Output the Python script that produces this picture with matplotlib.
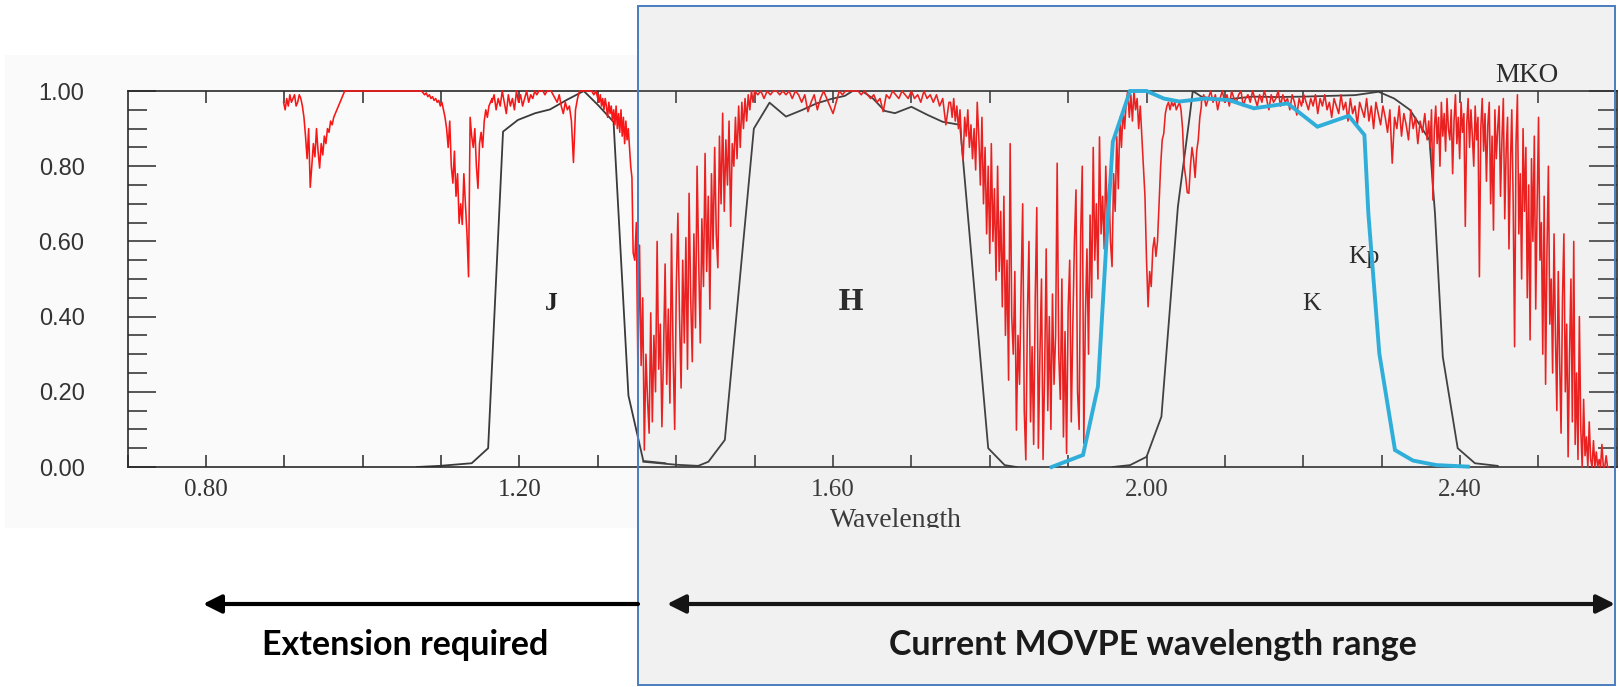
import numpy as np
import matplotlib
matplotlib.use("Agg")
import matplotlib.pyplot as plt
from matplotlib.patches import Rectangle, FancyArrowPatch
from matplotlib.transforms import Bbox, blended_transform_factory

# ---------------------------------------------------------------------------
# Atmospheric transmission (Mauna Kea), sampled piecewise: each block holds
# (first wavelength, last wavelength) and transmission values read at evenly
# spaced wavelengths across that block.
# ---------------------------------------------------------------------------
atm_range_a = (0.899, 0.979)
atm_vals_a = [0.97, 0.95, 0.98, 0.96, 0.99, 0.97, 0.98, 0.99, 0.96, 0.97,
              0.99, 0.98, 0.96, 0.93, 0.88, 0.82, 0.90, 0.744, 0.80, 0.86,
              0.825, 0.90, 0.84, 0.795, 0.86, 0.83, 0.88, 0.86, 0.90, 0.89,
              0.92, 0.91, 0.93, 0.94, 0.95, 0.96, 0.97, 0.98, 0.99, 1.0, 1.0]

atm_range_b = (0.979, 1.075)
atm_vals_b = [1.0, 1.0]

atm_range_c = (1.075, 1.165)
atm_vals_c = [1.0, 0.995, 0.99, 0.995, 0.985, 0.99, 0.98, 0.985, 0.975, 0.98,
              0.97, 0.975, 0.96, 0.97, 0.95, 0.93, 0.90, 0.85, 0.92, 0.80,
              0.755, 0.84, 0.72, 0.78, 0.648, 0.70, 0.645, 0.78, 0.70, 0.62,
              0.506, 0.93, 0.88, 0.85, 0.90, 0.80, 0.741, 0.86, 0.89, 0.85,
              0.92, 0.95, 0.93, 0.96, 0.97, 0.98]

atm_range_d = (1.165, 1.300)
atm_vals_d = [0.97, 0.99, 0.95, 0.98, 0.96, 1.0, 0.97, 0.94, 0.99, 0.96,
              0.98, 0.95, 1.0, 0.97, 0.99, 0.96, 0.98, 1.0, 0.97, 0.99,
              0.98, 1.0, 0.99, 1.0, 1.0, 1.0, 0.99, 1.0, 1.0, 1.0,
              0.99, 0.98, 0.97, 0.99, 0.96, 0.94, 0.97, 0.95, 0.96, 0.92,
              0.81, 0.95, 0.98, 1.0, 1.0, 1.0, 1.0, 1.0, 1.0, 1.0,
              0.99, 1.0, 0.98]

atm_range_e = (1.300, 1.345)
atm_vals_e = [0.99, 0.97, 0.99, 0.96, 0.98, 0.95, 0.98, 0.96, 0.93, 0.97,
              0.94, 0.96, 0.92, 0.95, 0.91, 0.96, 0.90, 0.94, 0.89, 0.95,
              0.88, 0.93, 0.86, 0.92, 0.87, 0.90, 0.85, 0.80, 0.77, 0.57]

atm_range_f = (1.345, 1.500)
atm_vals_f = [0.57, 0.55, 0.65, 0.25, 0.59, 0.27, 0.45, 0.045, 0.30, 0.18,
              0.09, 0.41, 0.12, 0.35, 0.20, 0.60, 0.26, 0.38, 0.107, 0.30,
              0.54, 0.22, 0.42, 0.17, 0.62, 0.30, 0.10, 0.48, 0.675, 0.40,
              0.21, 0.55, 0.33, 0.61, 0.26, 0.728, 0.45, 0.28, 0.62, 0.37,
              0.80, 0.55, 0.33, 0.66, 0.48, 0.834, 0.52, 0.72, 0.42, 0.78,
              0.58, 0.85, 0.62, 0.53, 0.88, 0.70, 0.941, 0.68, 0.87, 0.75,
              0.92, 0.64, 0.86, 0.80, 0.93, 0.82, 0.96, 0.85, 0.97, 0.90,
              0.98, 0.92, 0.99, 0.95, 1.0, 0.97, 1.0]

atm_range_g = (1.500, 1.748)
atm_vals_g = [1.0, 0.99, 1.0, 0.98, 1.0, 0.99, 1.0, 1.0, 0.99, 1.0,
              0.99, 1.0, 0.98, 1.0, 0.99, 0.97, 0.99, 0.945, 0.97, 0.99,
              0.95, 0.98, 1.0, 0.98, 0.96, 0.94, 0.97, 1.0, 0.99, 1.0,
              1.0, 1.0, 1.0, 1.0, 0.99, 1.0, 0.99, 0.98, 0.99, 0.97,
              0.98, 0.945, 0.99, 0.98, 1.0, 0.99, 0.98, 1.0, 0.99, 0.98,
              1.0, 0.98, 0.99, 0.97, 1.0, 0.98, 0.99, 0.97, 0.99, 0.96,
              0.98, 0.91, 0.97]

atm_range_h = (1.750, 2.070)
atm_vals_h = [0.97, 0.93, 0.98, 0.92, 0.96, 0.90, 0.95, 0.86, 0.816, 0.93,
              0.88, 0.95, 0.85, 0.91, 0.82, 0.90, 0.79, 0.97, 0.88, 0.75,
              0.93, 0.70, 0.85, 0.62, 0.80, 0.568, 0.86, 0.60, 0.74, 0.497,
              0.80, 0.52, 0.68, 0.426, 0.72, 0.35, 0.55, 0.231, 0.86, 0.40,
              0.30, 0.52, 0.098, 0.35, 0.22, 0.48, 0.70, 0.15, 0.019, 0.40,
              0.60, 0.12, 0.32, 0.06, 0.45, 0.69, 0.05, 0.30, 0.50, 0.02,
              0.25, 0.58, 0.15, 0.40, 0.10, 0.46, 0.22, 0.35, 0.808, 0.30,
              0.18, 0.50, 0.08, 0.36, 0.036, 0.42, 0.55, 0.12, 0.38, 0.60,
              0.737, 0.20, 0.10, 0.62, 0.80, 0.063, 0.40, 0.58, 0.30, 0.67,
              0.45, 0.85, 0.55, 0.70, 0.50, 0.878, 0.62, 0.72, 0.58, 0.80,
              0.66, 0.75, 0.60, 0.533, 0.78, 0.68, 0.88, 0.74, 0.93, 0.85,
              0.95, 0.90, 0.967, 1.0, 0.93, 0.99, 0.92, 1.0, 0.95, 0.98,
              0.90, 0.96, 0.88, 0.80, 0.72, 0.55, 0.426, 0.52, 0.48, 0.58,
              0.61, 0.56, 0.60, 0.70, 0.80, 0.87, 0.887, 0.94, 0.96, 0.97,
              0.95, 0.97, 0.96, 0.97, 0.95, 0.96, 0.97, 0.95, 0.90, 0.80,
              0.77, 0.73, 0.728, 0.80, 0.85, 0.82, 0.77, 0.84, 0.87, 0.93,
              0.96]

atm_range_i = (2.070, 2.358)
atm_vals_i = [0.97, 0.99, 0.96, 0.98, 1.0, 0.97, 0.99, 0.95, 0.98, 1.0,
              0.97, 0.99, 0.96, 1.0, 0.98, 0.97, 0.99, 1.0, 0.96, 0.98,
              0.99, 0.97, 1.0, 0.98, 0.96, 0.99, 0.97, 1.0, 0.98, 0.95,
              0.99, 0.97, 0.98, 1.0, 0.96, 0.99, 0.97, 0.98, 0.95, 0.99,
              0.97, 0.936, 0.98, 0.96, 0.99, 0.97, 0.95, 0.98, 0.96, 0.99,
              0.94, 0.98, 0.96, 0.99, 0.95, 0.97, 0.93, 0.98, 0.96, 0.94,
              0.99, 0.95, 0.97, 0.92, 0.98, 0.94, 0.96, 0.91, 0.97, 0.95,
              0.93, 0.98, 0.92, 0.96, 0.90, 0.97, 0.94, 0.91, 0.96, 0.93,
              0.89, 0.95, 0.808, 0.93, 0.90, 0.96, 0.88, 0.94, 0.91, 0.87,
              0.95, 0.90, 0.93, 0.86, 0.92, 0.89, 0.94, 0.87]

atm_range_j = (2.360, 2.590)
atm_vals_j = [0.92, 0.85, 0.95, 0.71, 0.90, 0.96, 0.86, 0.93, 0.80, 0.97,
              0.88, 0.94, 0.84, 0.98, 0.90, 0.87, 0.95, 0.78, 0.92, 0.99,
              0.86, 0.93, 0.82, 0.97, 0.89, 0.94, 0.64, 0.91, 0.98, 0.85,
              0.95, 0.88, 0.80, 0.96, 0.87, 0.93, 0.506, 0.90, 0.98, 0.84,
              0.94, 0.76, 0.91, 0.97, 0.70, 0.88, 0.63, 0.95, 0.82, 0.90,
              0.96, 0.72, 0.87, 0.98, 0.66, 0.84, 0.93, 0.58, 0.80, 0.95,
              0.70, 0.32, 0.86, 0.99, 0.62, 0.78, 0.50, 0.90, 0.68, 0.85,
              0.45, 0.75, 0.338, 0.82, 0.60, 0.88, 0.42, 0.70, 0.93, 0.55,
              0.65, 0.30, 0.72, 0.22, 0.58, 0.80, 0.38, 0.50, 0.25, 0.62,
              0.35, 0.15, 0.52, 0.28, 0.09, 0.45, 0.62, 0.20, 0.38, 0.027,
              0.30, 0.50, 0.12, 0.60, 0.06, 0.25, 0.02, 0.40, 0.10, 0.0,
              0.18, 0.03, 0.08, 0.0, 0.12, 0.02, 0.0, 0.07, 0.0, 0.04,
              0.0, 0.02, 0.0, 0.06, 0.0, 0.0, 0.03, 0.0, 0.0]

# ---------------------------------------------------------------------------
# MKO filter profiles (J, H, K) and Keck Kp
# ---------------------------------------------------------------------------
j_wave = [1.069, 1.098, 1.139, 1.160, 1.179, 1.198, 1.220, 1.239, 1.260,
          1.282, 1.300, 1.320, 1.339, 1.358, 1.386]
j_trans = [0.0, 0.003, 0.01, 0.05, 0.892, 0.923, 0.941, 0.951, 0.976,
           1.0, 0.963, 0.918, 0.19, 0.016, 0.01]

h_wave = [1.358, 1.400, 1.428, 1.441, 1.462, 1.499, 1.519, 1.540, 1.560,
          1.579, 1.598, 1.615, 1.625, 1.637, 1.651, 1.666, 1.679, 1.700,
          1.721, 1.740, 1.762, 1.798, 1.819, 1.834]
h_trans = [0.014, 0.006, 0.003, 0.014, 0.072, 0.90, 0.969, 0.932, 0.949,
           0.967, 0.979, 0.987, 1.0, 1.0, 0.98, 0.947, 0.941, 0.958,
           0.936, 0.918, 0.91, 0.05, 0.005, 0.0]

k_wave = [1.957, 1.979, 2.000, 2.019, 2.040, 2.055, 2.059, 2.070, 2.095,
          2.135, 2.164, 2.200, 2.266, 2.296, 2.316, 2.336, 2.361, 2.368,
          2.378, 2.397, 2.419, 2.448]
k_trans = [0.0, 0.005, 0.027, 0.134, 0.692, 0.932, 1.0, 0.985, 0.976,
           0.985, 0.984, 0.985, 0.989, 0.998, 0.98, 0.95, 0.87, 0.675,
           0.293, 0.05, 0.01, 0.003]

kp_wave = [1.879, 1.919, 1.938, 1.949, 1.957, 1.979, 2.000, 2.022, 2.042,
           2.075, 2.105, 2.137, 2.180, 2.218, 2.258, 2.278, 2.283, 2.297,
           2.317, 2.340, 2.370, 2.410]
kp_trans = [0.0, 0.032, 0.214, 0.604, 0.865, 1.0, 1.0, 0.98, 0.972,
            0.98, 0.976, 0.954, 0.967, 0.905, 0.934, 0.883, 0.675, 0.302,
            0.045, 0.017, 0.005, 0.001]

x_major = [0.80, 1.20, 1.60, 2.00, 2.40]
x_minor = [0.70, 0.90, 1.00, 1.10, 1.30, 1.40, 1.50, 1.70, 1.80, 1.90,
           2.10, 2.20, 2.30, 2.50]
x_top = [0.80, 0.90, 1.00, 1.10, 1.20, 1.30, 1.40, 1.50, 1.60, 1.70, 1.80,
         1.90, 2.00, 2.10, 2.20, 2.30, 2.40, 2.50]
y_major = [0.0, 0.2, 0.4, 0.6, 0.8, 1.0]
y_minor = [0.05, 0.10, 0.15, 0.25, 0.30, 0.35, 0.45, 0.50, 0.55, 0.65,
           0.70, 0.75, 0.85, 0.90, 0.95]

# ---------------------------------------------------------------------------
W, H = 1619, 687
fig = plt.figure(figsize=(W / 100, H / 100), dpi=100)
fig.patch.set_facecolor("white")


def fx(px):
    return px / W


def fy(py):
    return 1 - py / H


# light backdrop behind the left part of the transmission plot
fig.add_artist(Rectangle((fx(5), fy(528)), fx(638) - fx(5), fy(55) - fy(528),
                         transform=fig.transFigure, facecolor="#f9faf9",
                         edgecolor="none", zorder=-5))

ax = fig.add_axes([fx(127.6), fy(467), fx(1616.8) - fx(127.6), fy(91) - fy(467)])
ax.set_facecolor("none")
ax.set_xlim(0.70, 2.60)
ax.set_ylim(0.0, 1.0)

ranges = [atm_range_a, atm_range_b, atm_range_c, atm_range_d, atm_range_e,
          atm_range_f, atm_range_g, atm_range_h, atm_range_i, atm_range_j]
vals = [atm_vals_a, atm_vals_b, atm_vals_c, atm_vals_d, atm_vals_e,
        atm_vals_f, atm_vals_g, atm_vals_h, atm_vals_i, atm_vals_j]
atm_w = np.concatenate([np.linspace(r[0], r[1], len(v)) for r, v in zip(ranges, vals)])
atm_t = np.concatenate([np.asarray(v, float) for v in vals])

filt_kw = dict(color="#3a3a3a", lw=1.3, zorder=2)
ax.plot(j_wave, j_trans, **filt_kw)
ax.plot(h_wave, h_trans, **filt_kw)
ax.plot(k_wave, k_trans, **filt_kw)
ax.plot(atm_w, atm_t, color="#f81616", lw=1.15, zorder=3, clip_on=False)
ax.plot(kp_wave, kp_trans, color="#27b4e6", lw=2.8, zorder=4,
        solid_joinstyle="miter", clip_on=False)

# spines and ticks
for side in ["left", "right", "top", "bottom"]:
    ax.spines[side].set_color("#2a2a2a")
    ax.spines[side].set_linewidth(1.2)
    ax.spines[side].set_zorder(2.5)

ax.set_xticks(x_major)
ax.set_xticks(x_minor, minor=True)
ax.set_xticklabels([f"{v:.2f}" for v in x_major])
ax.set_yticks(y_major)
ax.set_yticks(y_minor, minor=True)
ax.set_yticklabels([f"{v:.2f}" for v in y_major])

ax.tick_params(axis="x", which="both", direction="in", length=8.6, width=1.1,
               color="#2a2a2a", bottom=True, top=False, pad=8.5,
               labelsize=18, labelcolor="#333333")
ax.tick_params(axis="y", which="major", direction="in", length=20, width=1.1,
               color="#2a2a2a", left=True, right=True, pad=31,
               labelsize=17, labelcolor="#333333")
ax.tick_params(axis="y", which="minor", direction="in", length=13.5, width=1.1,
               color="#2a2a2a", left=True, right=True)
for lbl in ax.get_xticklabels():
    lbl.set_fontfamily(["Liberation Serif", "DejaVu Serif"])
for lbl in ax.get_yticklabels():
    lbl.set_fontfamily(["Liberation Sans", "DejaVu Sans"])

# ticks hanging from the upper frame line
top = ax.secondary_xaxis("top")
top.set_xticks(x_top)
top.tick_params(direction="in", length=8.6, width=1.1, color="#2a2a2a",
                labeltop=False)
top.spines["top"].set_visible(False)

# band labels
serif = ["Liberation Serif", "DejaVu Serif"]
ax.text(1.241, 0.418, "J", family=serif, fontsize=18.5, weight="bold",
        color="#222222", ha="center", va="baseline")
ax.text(1.623, 0.418, "H", family=["DejaVu Serif"], fontsize=20, weight="bold",
        color="#222222", ha="center", va="baseline")
ax.text(2.211, 0.418, "K", family=serif, fontsize=18.5,
        color="#222222", ha="center", va="baseline")
ax.text(2.277, 0.543, "Kp", family=serif, fontsize=18.5,
        color="#222222", ha="center", va="baseline")
ax.text(2.485, 1.024, "MKO", family=serif, fontsize=19.5,
        color="#222222", ha="center", va="baseline")

wl = ax.text(1.68, fy(527), "Wavelength", family=serif, fontsize=20,
             color="#333333", ha="center", va="baseline",
             transform=blended_transform_factory(ax.transData, fig.transFigure))
wl.set_clip_box(Bbox.from_extents(0, (H - 528), W, H))
wl.set_clip_on(True)

# shaded panel marking the current growth range
fig.add_artist(Rectangle((fx(638), fy(685)), fx(1615) - fx(638), fy(6) - fy(685),
                         transform=fig.transFigure,
                         facecolor=(0.5, 0.5, 0.5, 0.11),
                         edgecolor="#4a7dbf", lw=1.4, zorder=10))

# range arrows
arrow_y = fy(604)
fig.add_artist(FancyArrowPatch((fx(638), arrow_y), (fx(203), arrow_y),
                               transform=fig.transFigure,
                               arrowstyle="-|>,head_length=11,head_width=5.5",
                               mutation_scale=1, lw=3.0, color="black",
                               shrinkA=0, shrinkB=0, zorder=11))
fig.add_artist(FancyArrowPatch((fx(667), arrow_y), (fx(1615), arrow_y),
                               transform=fig.transFigure,
                               arrowstyle="<|-|>,head_length=11,head_width=5.5",
                               mutation_scale=1, lw=3.0, color="#151515",
                               shrinkA=0, shrinkB=0, zorder=11))

bold_kw = dict(family=["Lato", "DejaVu Sans"], weight="bold", fontsize=24.5,
               ha="center", va="baseline", transform=fig.transFigure, zorder=12)
fig.text(fx(405), fy(655), "Extension required", color="black", **bold_kw)
fig.text(fx(1153), fy(655), "Current MOVPE wavelength range", color="#1a1a1a",
         **bold_kw)

fig.savefig("out.png", dpi=100, facecolor=fig.get_facecolor())
